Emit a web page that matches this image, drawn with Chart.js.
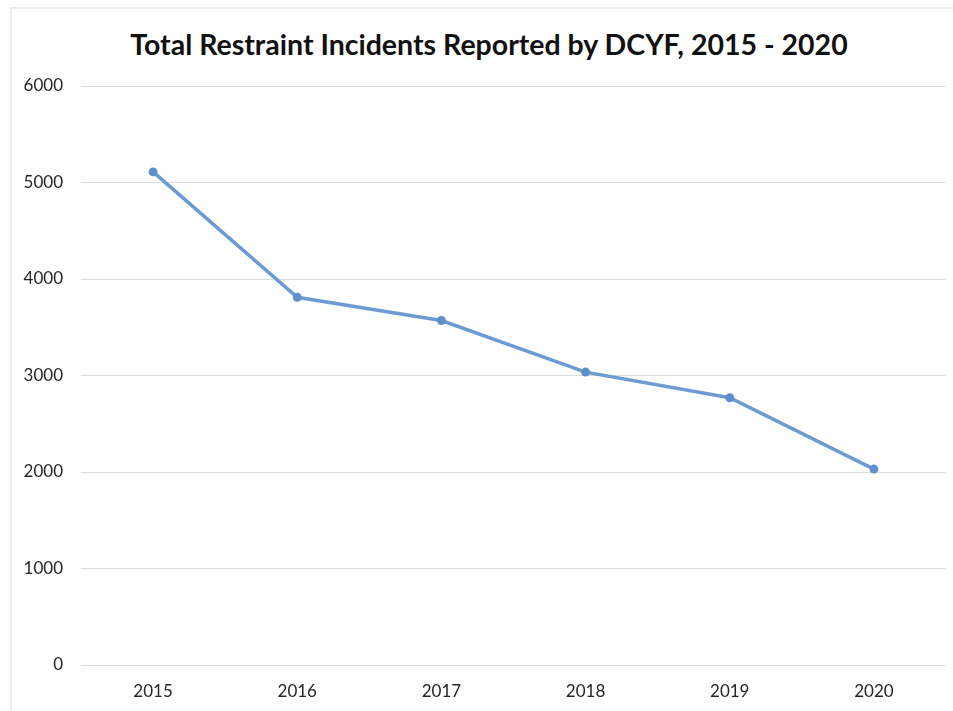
<!DOCTYPE html>
<html>
<head>
<meta charset="utf-8">
<script src="https://cdn.jsdelivr.net/npm/chart.js@4/dist/chart.umd.min.js"></script>
<style>
  html, body { margin: 0; padding: 0; background: #ffffff; }
  body { width: 953px; height: 711px; position: relative; overflow: hidden; }
  #frame { position: absolute; left: 10px; top: 7px; right: 0; bottom: 0;
           border-left: 2px solid #ececec; border-top: 2px solid #ececec; }
  #title { position: absolute; left: 0; top: 27px; width: 978px; text-align: center;
           font-family: Lato, "Open Sans", sans-serif; font-weight: bold; font-size: 28.5px;
           color: #111; line-height: 34px; }
  #wrap { position: absolute; left: 0; top: 0; width: 953px; height: 711px; }
</style>
</head>
<body>
<div id="frame"></div>
<div id="title">Total Restraint Incidents Reported by DCYF, 2015 - 2020</div>
<div id="wrap"><canvas id="c" width="953" height="711"></canvas></div>
<script>
const years = ["2015", "2016", "2017", "2018", "2019", "2020"];
const incidents = [5110, 3810, 3570, 3035, 2770, 2030];
const yTicks = [0, 1000, 2000, 3000, 4000, 5000, 6000];

new Chart(document.getElementById('c'), {
  type: 'line',
  data: {
    labels: years,
    datasets: [{
      label: 'Total Restraint Incidents',
      data: incidents,
      borderColor: '#6b9bd2',
      backgroundColor: '#6b9bd2',
      borderWidth: 3.5,
      pointRadius: 4.5,
      pointBorderWidth: 0,
      pointBackgroundColor: '#5f8fc8',
      tension: 0
    }]
  },
  options: {
    responsive: false,
    animation: false,
    layout: { padding: { left: 12, right: 7, top: 86, bottom: 0 } },
    plugins: { legend: { display: false }, title: { display: false }, tooltip: { enabled: false } },
    scales: {
      x: {
        offset: true,
        grid: { display: false, drawTicks: false },
        border: { display: false },
        ticks: { padding: 16, color: '#262626', font: { family: 'Lato', size: 17 } },
        afterFit: (s) => { s.height = 46; }
      },
      y: {
        min: 0, max: 6000,
        afterBuildTicks: (s) => { s.ticks = yTicks.map(v => ({ value: v })); },
        grid: { color: '#dcdcdc', lineWidth: 1, drawTicks: false },
        border: { display: false },
        ticks: { padding: 18, color: '#262626', font: { family: 'Lato', size: 17 },
                 callback: (v) => String(v) },
        afterFit: (s) => { s.width = 69; }
      }
    }
  }
});
</script>
</body>
</html>
